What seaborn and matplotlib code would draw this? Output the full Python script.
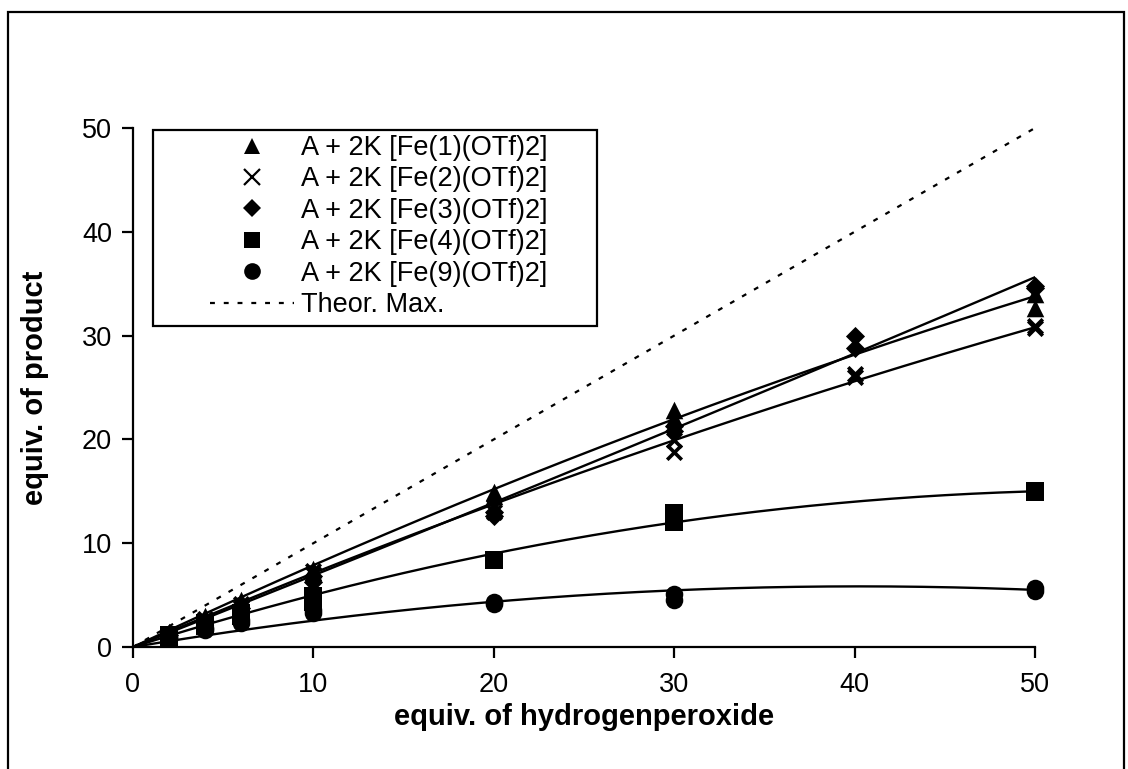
import numpy as np
import pandas as pd
import matplotlib
matplotlib.use("Agg")
import matplotlib.pyplot as plt
import seaborn as sns
from matplotlib.lines import Line2D
from matplotlib.patches import Rectangle

sns.set_theme(style="white")
plt.rcParams['font.family'] = ['Liberation Sans', 'DejaVu Sans']

# ---- measured product yields (duplicate runs) vs. equivalents of H2O2 ----
series_labels = [
    "A + 2K [Fe(1)(OTf)2]",
    "A + 2K [Fe(2)(OTf)2]",
    "A + 2K [Fe(3)(OTf)2]",
    "A + 2K [Fe(4)(OTf)2]",
    "A + 2K [Fe(9)(OTf)2]",
]
series_markers = ["^", "x", "D", "s", "o"]

h2o2_fe1 = [2, 2, 4, 4, 6, 6, 10, 10, 20, 20, 30, 30, 50, 50]
prod_fe1 = [1.4, 1.2, 3.0, 2.7, 4.5, 4.1, 7.5, 7.2, 14.9, 14.5, 22.8, 22.1, 34.0, 32.7]

h2o2_fe2 = [2, 2, 4, 4, 6, 6, 10, 10, 20, 20, 30, 30, 40, 40, 50, 50]
prod_fe2 = [1.3, 1.1, 2.7, 2.5, 4.1, 3.8, 7.3, 7.0, 13.5, 13.0, 19.9, 18.8, 26.3, 26.0, 30.9, 30.7]

h2o2_fe3 = [2, 4, 6, 10, 10, 20, 20, 30, 30, 40, 40, 50, 50]
prod_fe3 = [1.2, 2.5, 3.8, 6.8, 6.3, 13.0, 12.6, 21.3, 20.8, 30.0, 28.8, 34.8, 34.6]

h2o2_fe4 = [2, 2, 4, 4, 6, 6, 10, 10, 20, 30, 30, 50, 50]
prod_fe4 = [1.2, 1.0, 2.3, 2.0, 3.3, 3.0, 4.9, 4.3, 8.4, 12.9, 12.0, 15.0, 14.9]

h2o2_fe9 = [2, 2, 4, 4, 6, 6, 10, 10, 20, 20, 30, 30, 50, 50]
prod_fe9 = [1.0, 0.9, 1.8, 1.6, 2.6, 2.3, 3.6, 3.3, 4.3, 4.1, 5.1, 4.5, 5.7, 5.4]

# quadratic trend lines through the origin: y = a*x + b*x^2
trend_a = [0.816, 0.736, 0.684, 0.55, 0.29]
trend_b = [-0.0028, -0.0024, 0.00057, -0.005, -0.0036]

# theoretical maximum: one equivalent of product per equivalent of oxidant
theor_x = [0, 50]
theor_y = [0, 50]

xs = [h2o2_fe1, h2o2_fe2, h2o2_fe3, h2o2_fe4, h2o2_fe9]
ys = [prod_fe1, prod_fe2, prod_fe3, prod_fe4, prod_fe9]

points = pd.concat(
    [pd.DataFrame({"h2o2": x, "product": y, "series": lab})
     for x, y, lab in zip(xs, ys, series_labels)],
    ignore_index=True,
)

grid = np.linspace(0, 50, 201)
curves = pd.concat(
    [pd.DataFrame({"h2o2": grid, "product": a * grid + b * grid ** 2, "series": lab})
     for a, b, lab in zip(trend_a, trend_b, series_labels)],
    ignore_index=True,
)

W, H = 1128, 769
fig = plt.figure(figsize=(W / 100, H / 100), dpi=100)
ax = fig.add_axes([133 / W, 1 - 647 / H, (1035 - 133) / W, (647 - 128) / H])
ax.set_facecolor("white")

DOTS = (0, (2.2, 4.0))

# theoretical maximum (dotted)
sns.lineplot(x=theor_x, y=theor_y, ax=ax, color="black", lw=1.6,
             linestyle=DOTS, legend=False)

# trend curves
for lab in series_labels:
    sns.lineplot(data=curves[curves.series == lab], x="h2o2", y="product",
                 ax=ax, color="black", lw=1.7, legend=False, estimator=None, sort=False)

# data markers
marker_sizes = {"^": 160, "x": 110, "D": 95, "s": 160, "o": 160}
for lab, m in zip(series_labels, series_markers):
    sub = points[points.series == lab]
    if m == "x":
        sns.scatterplot(data=sub, x="h2o2", y="product", ax=ax, marker=m,
                        color="black", s=marker_sizes[m], linewidth=2.6,
                        legend=False, clip_on=False, zorder=4)
    else:
        sns.scatterplot(data=sub, x="h2o2", y="product", ax=ax, marker=m,
                        color="black", edgecolor="black", s=marker_sizes[m],
                        linewidth=0, legend=False, clip_on=False, zorder=4)

ax.set_xlim(0, 50)
ax.set_ylim(0, 50)
ax.set_xticks([0, 10, 20, 30, 40, 50])
ax.set_yticks([0, 10, 20, 30, 40, 50])
for side in ["top", "right"]:
    ax.spines[side].set_visible(False)
for side in ["left", "bottom"]:
    ax.spines[side].set_color("black")
    ax.spines[side].set_linewidth(1.6)
ax.tick_params(axis="x", direction="out", length=8, width=1.6, color="black",
               labelsize=19.5, pad=10, labelcolor="black", bottom=True)
ax.tick_params(axis="y", direction="out", length=8, width=1.6, color="black",
               labelsize=19.5, pad=7, labelcolor="black", left=True)
ax.grid(False)

ax.set_xlabel("equiv. of hydrogenperoxide", fontsize=21, fontweight="bold", color="black")
ax.set_ylabel("equiv. of product", fontsize=21, fontweight="bold", color="black")
ax.xaxis.set_label_coords(0.5, (647 - 703) / 519)
ax.yaxis.set_label_coords((49 - 133) / 902, 0.5)

# legend
handles = []
for lab, m in zip(series_labels, series_markers):
    if m == "x":
        handles.append(Line2D([], [], marker="x", color="black", linestyle="none",
                              markersize=11, markeredgewidth=1.6, label=lab))
    else:
        ms = {"^": 12, "D": 9, "s": 12, "o": 12}[m]
        handles.append(Line2D([], [], marker=m, color="black", linestyle="none",
                              markersize=ms, markeredgewidth=0, label=lab))
handles.append(Line2D([], [], color="black", lw=1.6, linestyle=DOTS,
                      label="Theor. Max."))
leg = ax.legend(handles=handles, loc="upper left",
                bbox_to_anchor=((210 - 133) / 902, (647 - 135) / 519),
                frameon=False, fontsize=19.5, handlelength=3.1, handletextpad=0.25,
                labelspacing=0.2, borderpad=0, borderaxespad=0)
for t in leg.get_texts():
    t.set_color("black")
ax.add_patch(Rectangle(((153 - 133) / 902, (647 - 326) / 519),
                       (597 - 153) / 902, (326 - 130) / 519,
                       transform=ax.transAxes, fill=False, edgecolor="black",
                       lw=1.6, clip_on=False, zorder=5))

# outer frame of the figure
fig.patches.append(Rectangle((8 / W, -0.01), (1124 - 8) / W, 1 - 12 / H + 0.01,
                             transform=fig.transFigure, fill=False,
                             edgecolor="black", lw=1.6))

fig.savefig("out.png", dpi=100, facecolor="white")
